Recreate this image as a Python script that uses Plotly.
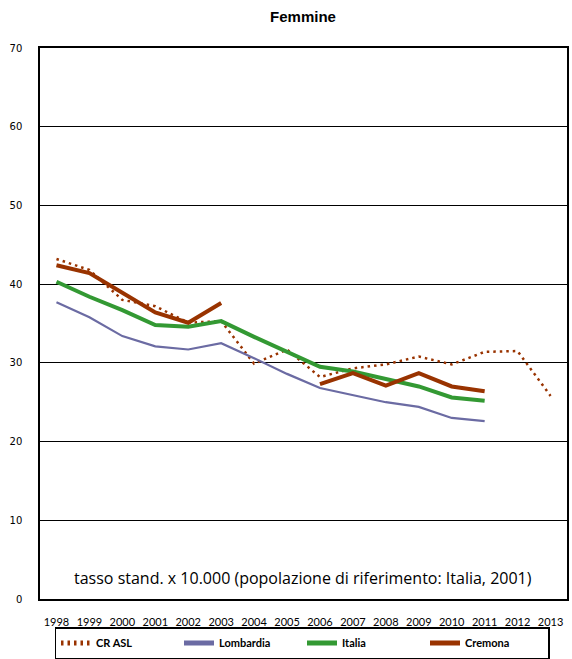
import plotly.graph_objects as go

years = [str(y) for y in range(1998, 2014)]

cr_asl = [43.2, 41.8, 38.0, 37.2, 35.1, 35.3, 29.9, 31.7, 28.2, 29.3, 29.8, 30.8, 29.8, 31.4, 31.5, 25.8]
lombardia = [37.7, 35.8, 33.4, 32.1, 31.7, 32.5, 30.6, 28.6, 26.8, 25.9, 25.0, 24.4, 23.0, 22.6, None, None]
italia = [40.3, 38.4, 36.7, 34.8, 34.6, 35.3, 33.3, 31.4, 29.5, 28.9, 27.9, 27.0, 25.6, 25.2, None, None]
cremona = [42.4, 41.4, 38.9, 36.4, 35.1, 37.6, None, None, 27.3, 28.7, 27.1, 28.7, 27.0, 26.4, None, None]

BROWN = "#993300"
GREEN = "#339933"
SLATE = "#6B6BA3"

# plot-area geometry in pixels, used to place the legend and its shadow
L, R, T, B = 40, 5, 48, 60
W, H = 572, 659
PW, PH = W - L - R, H - T - B


def px_x(x):
    return (x - L) / PW


def px_y(y):
    return (H - B - y) / PH


fig = go.Figure()
fig.add_trace(go.Scatter(x=years, y=cr_asl, name="CR ASL", mode="lines",
                         line=dict(color=BROWN, width=2.5, dash="2.5px,4px")))
fig.add_trace(go.Scatter(x=years, y=lombardia, name="Lombardia", mode="lines",
                         line=dict(color=SLATE, width=2.2)))
fig.add_trace(go.Scatter(x=years, y=italia, name="Italia", mode="lines",
                         line=dict(color=GREEN, width=4)))
fig.add_trace(go.Scatter(x=years, y=cremona, name="Cremona", mode="lines",
                         line=dict(color=BROWN, width=4)))

fig.update_layout(
    width=W, height=H,
    margin=dict(l=L, r=R, t=T, b=B, autoexpand=False),
    paper_bgcolor="white", plot_bgcolor="white",
    title=dict(text="<b>Femmine</b>", x=303 / W, xanchor="center",
               y=1 - 17 / H, yanchor="middle",
               font=dict(family="Liberation Sans, Arial", size=15, color="black")),
    showlegend=True,
    legend=dict(orientation="h", xref="paper", yref="paper",
                x=px_x(302), xanchor="center", y=px_y(627), yanchor="top",
                bordercolor="black", borderwidth=1.5, bgcolor="white",
                entrywidth=78, font=dict(family="Lato", size=11, color="black",
                                          weight="bold"),
                itemsizing="constant"),
    annotations=[dict(text="tasso stand. x 10.000 (popolazione di riferimento: Italia, 2001)",
                      xref="paper", yref="paper", x=px_x(303), y=px_y(578),
                      xanchor="center", yanchor="middle", showarrow=False,
                      font=dict(family="Open Sans", size=16, color="black"))],
    shapes=[dict(type="rect", xref="paper", yref="paper",
                 x0=px_x(64), x1=px_x(549), y0=px_y(659), y1=px_y(632),
                 fillcolor="black", line=dict(width=0), layer="below")],
)

fig.update_xaxes(type="category", range=[-0.5, 15.5], showgrid=False,
                 showline=True, linecolor="black", linewidth=1.5, mirror=True,
                 ticks="", ticklabelstandoff=12,
                 tickfont=dict(family="Lato", size=11, color="black"))
fig.update_yaxes(range=[0, 70], dtick=10, showgrid=True, gridcolor="black",
                 gridwidth=1, zeroline=False,
                 showline=True, linecolor="black", linewidth=1.5, mirror=True,
                 ticks="", ticklabelstandoff=14,
                 tickfont=dict(family="DejaVu Sans", size=10, color="black"))

fig.write_html("out.html")
